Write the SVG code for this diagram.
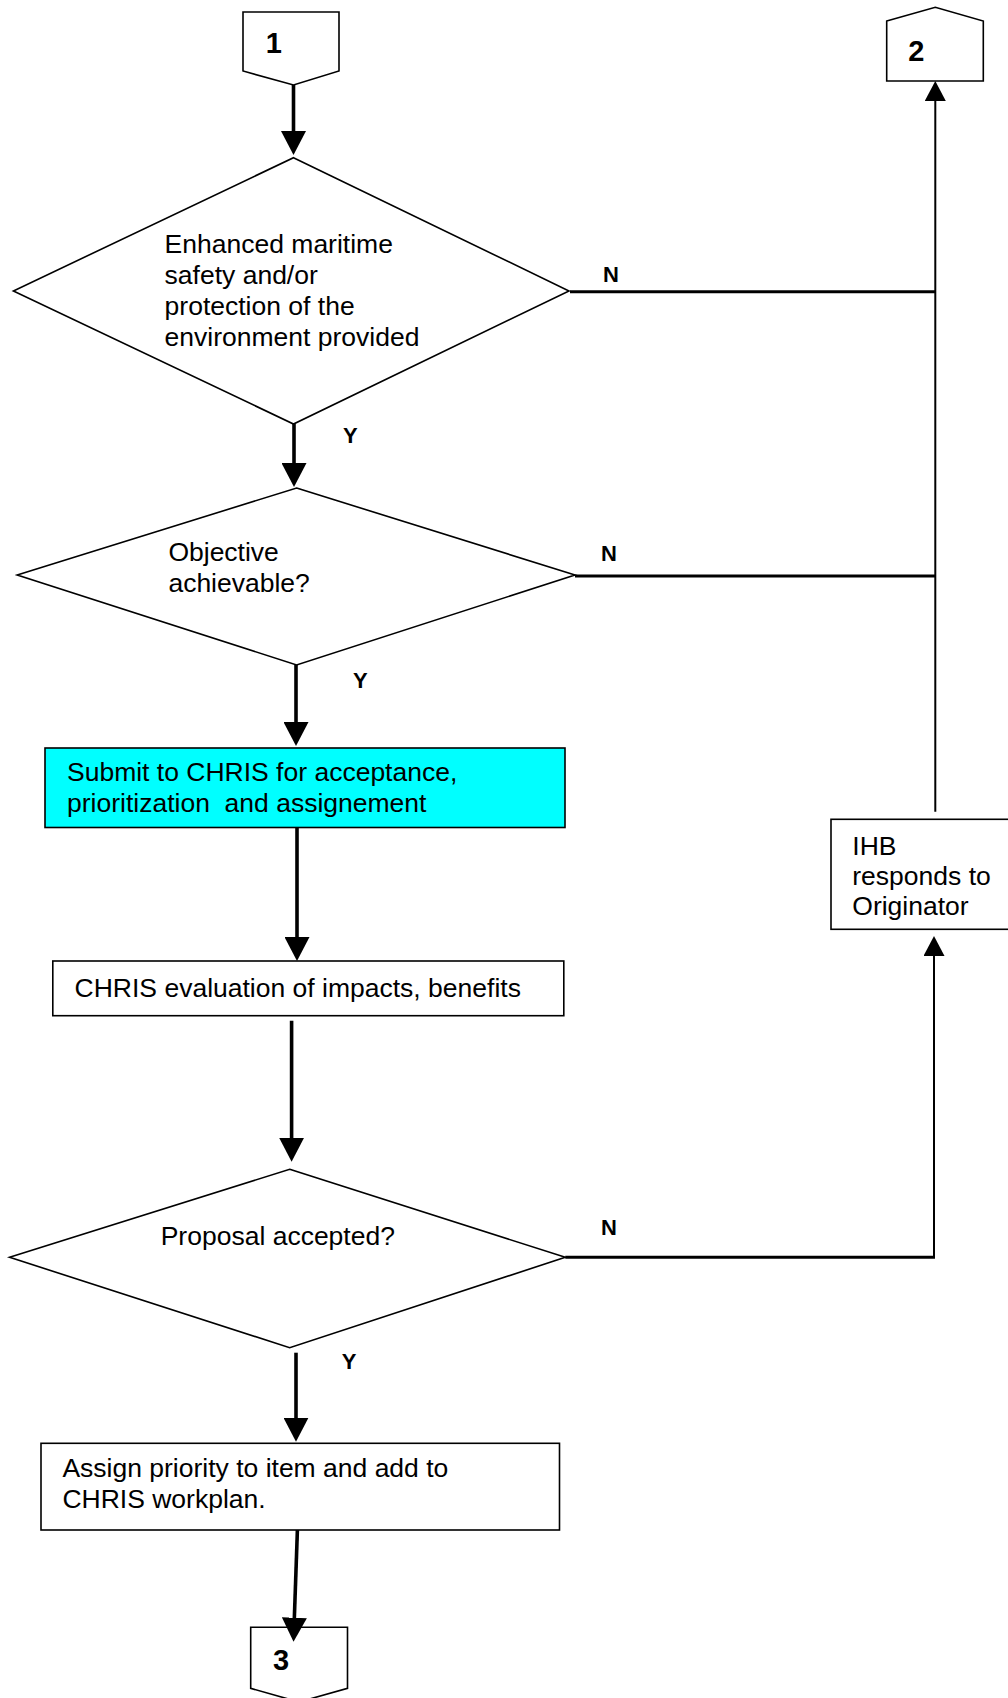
<svg xmlns="http://www.w3.org/2000/svg" width="1008" height="1698" viewBox="0 0 1008 1698">
  <style>
    .shape { fill: #ffffff; stroke: #000000; stroke-width: 1.6; }
    .cyan { fill: #00ffff; stroke: #000000; stroke-width: 1.6; }
    .t { font-family: "Liberation Sans", Arial, sans-serif; font-size: 26.5px; fill: #000000; }
    .num { font-family: "Liberation Sans", Arial, sans-serif; font-size: 29px; font-weight: bold; fill: #000000; }
    .lbl { font-family: "Liberation Sans", Arial, sans-serif; font-size: 22px; font-weight: bold; fill: #000000; }
    .flow { fill: none; stroke: #000000; stroke-width: 3.6; }
    .no { fill: none; stroke: #000000; stroke-width: 3; }
    .ret { fill: none; stroke: #000000; stroke-width: 2; }
  </style>
  <defs>
    <marker id="arrowL" markerUnits="userSpaceOnUse" viewBox="0 0 24 25" refX="16" refY="12.5" markerWidth="24" markerHeight="25" orient="auto">
      <path d="M0,0 L24,12.5 L0,25 Z" fill="#000000"/>
    </marker>
    <marker id="arrowS" markerUnits="userSpaceOnUse" viewBox="0 0 20 21" refX="14" refY="10.5" markerWidth="20" markerHeight="21" orient="auto">
      <path d="M0,0 L20,10.5 L0,21 Z" fill="#000000"/>
    </marker>
  </defs>
  <rect x="0" y="0" width="1008" height="1698" fill="#ffffff"/>

  <g id="conn1">
    <polygon class="shape" points="243,12 339,12 339,71 293.5,85 243,71"/>
    <text class="num" x="265.7" y="52.7">1</text>
  </g>

  <g id="conn2">
    <polygon class="shape" points="886.7,21 935.3,7.3 983.3,21 983.3,81 886.7,81"/>
    <text class="num" x="908.3" y="61">2</text>
  </g>

  <g id="decision1">
    <polygon class="shape" points="293.5,157.7 569,291 293.5,424 13.4,291"/>
    <text class="t" x="164.6" y="253">Enhanced maritime</text>
    <text class="t" x="164.6" y="284">safety and/or</text>
    <text class="t" x="164.6" y="315">protection of the</text>
    <text class="t" x="164.6" y="346">environment provided</text>
  </g>

  <g id="decision2">
    <polygon class="shape" points="296.6,488 575,575 296.6,665 17.2,575"/>
    <text class="t" x="168.4" y="561">Objective</text>
    <text class="t" x="168.4" y="592">achievable?</text>
  </g>

  <g id="submit">
    <rect class="cyan" x="45" y="748" width="520" height="79.5"/>
    <text class="t" x="67" y="781">Submit to CHRIS for acceptance,</text>
    <text class="t" x="67" y="812" xml:space="preserve">prioritization  and assignement</text>
  </g>

  <g id="evaluation">
    <rect class="shape" x="52.8" y="961" width="511" height="54.7"/>
    <text class="t" x="74.6" y="997">CHRIS evaluation of impacts, benefits</text>
  </g>

  <g id="decision3">
    <polygon class="shape" points="289.7,1169.3 565.3,1257.3 289.7,1347.7 9.6,1257.3"/>
    <text class="t" x="160.7" y="1245">Proposal accepted?</text>
  </g>

  <g id="assign">
    <rect class="shape" x="41" y="1443.3" width="518.5" height="86.7"/>
    <text class="t" x="62.4" y="1477">Assign priority to item and add to</text>
    <text class="t" x="62.4" y="1508">CHRIS workplan.</text>
  </g>

  <g id="conn3">
    <polygon class="shape" points="250.7,1627.3 347.5,1627.3 347.5,1688.3 299,1702 250.7,1688.3"/>
    <text class="num" x="272.9" y="1670">3</text>
  </g>

  <g id="ihb">
    <rect class="shape" x="831" y="819.3" width="182" height="110"/>
    <text class="t" x="852.3" y="855">IHB</text>
    <text class="t" x="852.3" y="885">responds to</text>
    <text class="t" x="852.3" y="914.5">Originator</text>
  </g>

  <g id="connectors">
    <line class="flow" x1="293.5" y1="85" x2="293.5" y2="147" marker-end="url(#arrowL)"/>
    <line class="flow" x1="294" y1="424" x2="294" y2="479" marker-end="url(#arrowL)"/>
    <line class="flow" x1="296" y1="665" x2="296" y2="738" marker-end="url(#arrowL)"/>
    <line class="flow" x1="297" y1="827.5" x2="297" y2="953" marker-end="url(#arrowL)"/>
    <line class="flow" x1="291.6" y1="1020.7" x2="291.6" y2="1153.7" marker-end="url(#arrowL)"/>
    <line class="flow" x1="296" y1="1352.7" x2="296" y2="1433.7" marker-end="url(#arrowL)"/>
    <line class="flow" x1="297.4" y1="1530" x2="293.8" y2="1633.7" marker-end="url(#arrowL)"/>
    <line class="no" x1="570" y1="291.7" x2="935.3" y2="291.7"/>
    <line class="no" x1="575" y1="576" x2="935.3" y2="576"/>
    <line class="no" x1="565.3" y1="1257.3" x2="935" y2="1257.3"/>
    <line class="ret" x1="935.3" y1="811.7" x2="935.3" y2="87" marker-end="url(#arrowS)"/>
    <line class="ret" x1="934" y1="1257.3" x2="934" y2="942" marker-end="url(#arrowS)"/>
    <text class="lbl" x="343" y="443">Y</text>
    <text class="lbl" x="353" y="688">Y</text>
    <text class="lbl" x="341.7" y="1369">Y</text>
    <text class="lbl" x="603" y="281.7">N</text>
    <text class="lbl" x="601" y="561">N</text>
    <text class="lbl" x="601" y="1235">N</text>
  </g>
</svg>
